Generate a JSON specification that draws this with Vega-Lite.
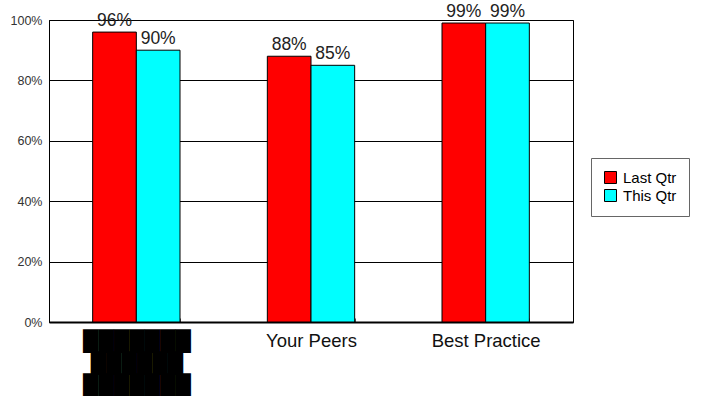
{
  "$schema": "https://vega.github.io/schema/vega-lite/v6.json",
  "autosize": {"type": "none"},
  "width": 524,
  "height": 302,
  "padding": {"left": 49, "top": 20, "right": 140, "bottom": 74},
  "background": "white",
  "config": {
    "font": "Liberation Sans",
    "view": {"stroke": "black", "strokeWidth": 1}
  },
  "data": {
    "values": [
      {"category": "Your Company", "series": "Last Qtr", "value": 0.96},
      {"category": "Your Company", "series": "This Qtr", "value": 0.90},
      {"category": "Your Peers", "series": "Last Qtr", "value": 0.88},
      {"category": "Your Peers", "series": "This Qtr", "value": 0.85},
      {"category": "Best Practice", "series": "Last Qtr", "value": 0.99},
      {"category": "Best Practice", "series": "This Qtr", "value": 0.99}
    ]
  },
  "encoding": {
    "x": {
      "field": "category",
      "type": "nominal",
      "sort": ["Your Company", "Your Peers", "Best Practice"],
      "scale": {"paddingInner": 0.5, "paddingOuter": 0.25},
      "axis": {
        "title": null,
        "labelAngle": 0,
        "labelFontSize": {"condition": {"test": "datum.value == 'Your Company'", "value": 20}, "value": 18.5},
        "labelFont": {"condition": {"test": "datum.value == 'Your Company'", "value": "DejaVu Sans"}, "value": "Liberation Sans"},
        "labelColor": {"condition": {"test": "datum.value == 'Your Company'", "value": "black"}, "value": "#111"},
        "labelPadding": 13,
        "domainColor": "black",
        "domainWidth": 2,
        "tickBand": "extent",
        "tickSize": -4,
        "tickColor": "#555",
        "labelExpr": "datum.value == 'Your Company' ? ['\u2588\u2588\u2588\u2588\u2588\u2588\u2588', '\u2588\u2588\u2588\u2588\u2588\u2588', '\u2588\u2588\u2588\u2588\u2588\u2588\u2588'] : datum.label",
        "labelLineHeight": 22
      }
    },
    "xOffset": {"field": "series", "type": "nominal", "scale": {"paddingInner": 0, "paddingOuter": 0}},
    "y": {
      "field": "value",
      "type": "quantitative",
      "scale": {"domain": [0, 1]},
      "axis": {
        "title": null,
        "values": [0, 0.2, 0.4, 0.6, 0.8, 1],
        "format": ".0%",
        "labelFontSize": 12.5,
        "labelColor": "#333",
        "labelPadding": 7,
        "ticks": false,
        "grid": true,
        "gridColor": "black",
        "gridOpacity": 1,
        "domainColor": "black",
        "domainWidth": 1
      }
    }
  },
  "layer": [
    {
      "mark": {"type": "bar", "stroke": "black", "strokeWidth": 1},
      "encoding": {
        "color": {
          "field": "series",
          "type": "nominal",
          "scale": {"domain": ["Last Qtr", "This Qtr"], "range": ["#FF0000", "#00FFFF"]},
          "legend": {
            "title": null,
            "orient": "none",
            "legendX": 542,
            "legendY": 138,
            "symbolType": "square",
            "symbolSize": 144,
            "symbolStrokeColor": "black",
            "symbolStrokeWidth": 1,
            "labelFontSize": 15,
            "labelColor": "black",
            "labelOffset": 5,
            "labelExpr": "datum.label + '\u00a0\u00a0\u00a0'",
            "rowPadding": 1,
            "padding": 12,
            "strokeColor": "#666",
            "fillColor": "white"
          }
        }
      }
    },
    {
      "mark": {"type": "text", "baseline": "alphabetic", "dy": -6, "fontSize": 17.5, "color": "#222"},
      "encoding": {
        "text": {"field": "value", "type": "quantitative", "format": ".0%"}
      }
    }
  ]
}
